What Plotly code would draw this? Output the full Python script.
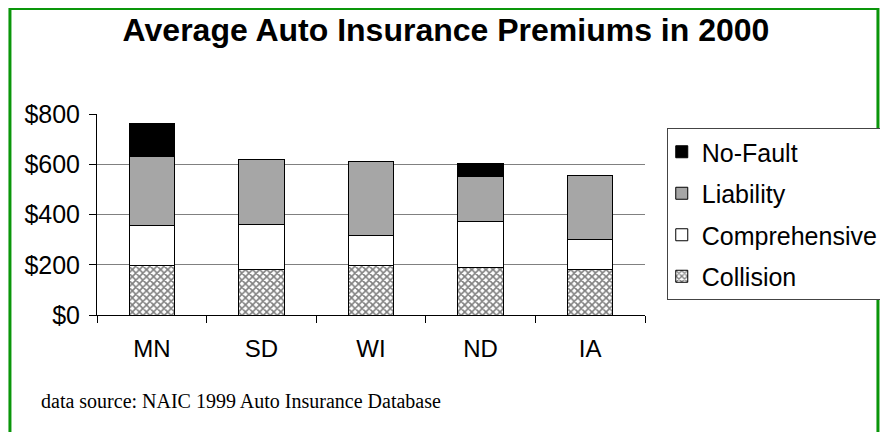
import plotly.graph_objects as go

states = ["MN", "SD", "WI", "ND", "IA"]
collision = [196, 183, 196, 191, 183]
comprehensive = [159, 179, 120, 182, 118]
liability = [275, 257, 293, 179, 255]
no_fault = [133, 0, 0, 50, 0]
y_ticks = [0, 200, 400, 600, 800]
y_tick_labels = ["$0", "$200", "$400", "$600", "$800"]

W, H = 888, 432
OFF = 8  # page body margin
L, R, T, B = 97 - OFF, 651 - OFF, 114 - OFF, 315 - OFF
pw, ph = R - L, B - T

def px(x):
    return (x - OFF - L) / pw

def py(y):
    return (B - (y - OFF)) / ph

fig = go.Figure()
fig.add_bar(x=states, y=collision, name="Collision", legendgroup="a", legendrank=4,
            marker=dict(color="white", line=dict(color="black", width=1),
                        pattern=dict(shape="x", fgcolor="black", bgcolor="white",
                                     size=5, solidity=0.55)))
fig.add_bar(x=states, y=comprehensive, name="Comprehensive", legendgroup="b", legendrank=3,
            marker=dict(color="white", line=dict(color="black", width=1)))
fig.add_bar(x=states, y=liability, name="Liability", legendgroup="c", legendrank=2,
            marker=dict(color="#a6a6a6", line=dict(color="black", width=1)))
fig.add_bar(x=states, y=no_fault, name="No-Fault", legendgroup="d", legendrank=1,
            marker=dict(color="black", line=dict(color="black", width=1)))

fig.update_layout(
    width=W, height=H,
    margin=dict(l=L, r=W - R, t=T, b=H - B, pad=0),
    barmode="stack", bargap=0.585,
    paper_bgcolor="white", plot_bgcolor="white",
    font=dict(family="Liberation Sans, Arial, sans-serif", size=24, color="black"),
    title=dict(text="<b>Average Auto Insurance Premiums in 2000</b>",
               font=dict(size=32, family="Liberation Sans, Arial, sans-serif"),
               x=(446 - OFF) / W, xanchor="center", xref="container",
               y=1 - (30 - OFF) / H, yanchor="middle", yref="container"),
    showlegend=True,
    legend=dict(x=px(673), y=py(128), xanchor="left", yanchor="top",
                traceorder="grouped", tracegroupgap=6, indentation=-6,
                bordercolor="#444444", borderwidth=1, bgcolor="white",
                font=dict(size=25)),
    xaxis=dict(showline=True, linecolor="black", linewidth=1,
               ticks="outside", tickson="boundaries", ticklen=7, tickcolor="black",
               showgrid=False, ticklabelstandoff=12, range=[-0.5, 4.5],
               fixedrange=True),
    yaxis=dict(range=[0, 800], tickvals=y_ticks, ticktext=y_tick_labels,
               showline=True, linecolor="black", linewidth=1,
               ticks="outside", ticklen=7, tickcolor="black",
               showgrid=True, gridcolor="#808080", gridwidth=1,
               zeroline=False, ticklabelstandoff=4, tickfont=dict(size=25)),
    shapes=[dict(type="rect", xref="paper", yref="paper",
                 x0=px(9), x1=px(886.5), y0=py(460), y1=py(8.5),
                 line=dict(color="#0a960a", width=3), layer="below")],
    annotations=[dict(text="data source: NAIC 1999 Auto Insurance Database",
                      xref="paper", yref="paper", x=px(38), y=py(401),
                      xanchor="left", yanchor="middle", showarrow=False,
                      font=dict(family="Liberation Serif, Times New Roman, serif",
                                size=20, color="black"))],
)

fig.write_html("out.html")
